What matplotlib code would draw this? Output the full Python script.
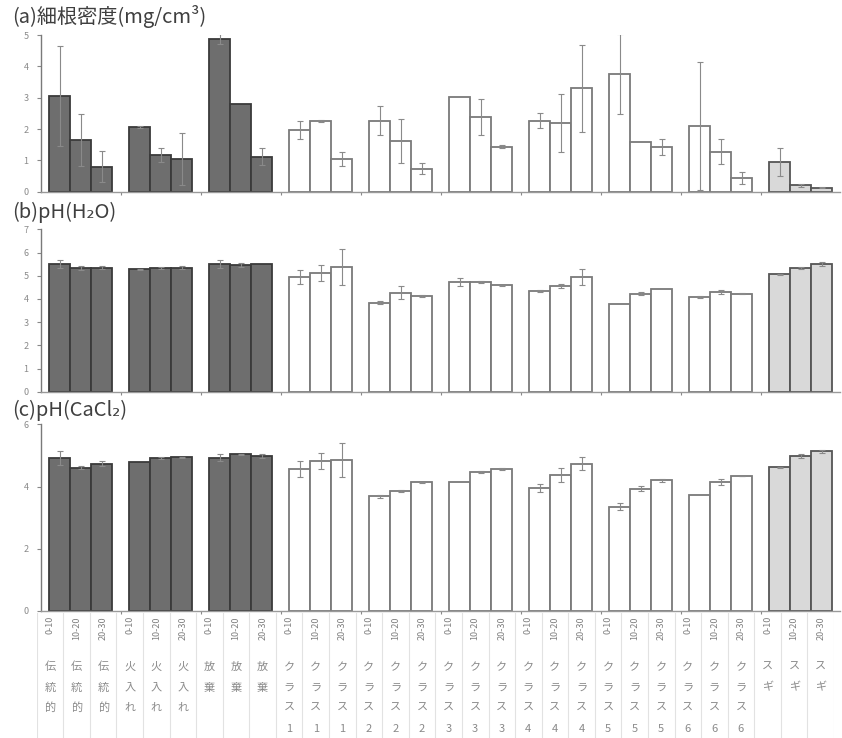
import matplotlib
matplotlib.use("Agg")
import matplotlib.pyplot as plt
import numpy as np

plt.rcParams['font.family'] = ['Noto Sans CJK JP', 'DejaVu Sans']

# ---- data -------------------------------------------------------------
groups = ["伝統的", "火入れ", "放棄", "クラス1", "クラス2", "クラス3",
          "クラス4", "クラス5", "クラス6", "スギ"]
depths = ["0-10", "10-20", "20-30"]

root_density = [3.06, 1.65, 0.80,  2.06, 1.16, 1.04,  4.87, 2.81, 1.12,
                1.97, 2.26, 1.05,  2.27, 1.63, 0.73,  3.02, 2.38, 1.44,
                2.27, 2.20, 3.30,  3.76, 1.59, 1.43,  2.10, 1.28, 0.43,
                0.94, 0.21, 0.13]
root_density_err = [1.60, 0.83, 0.49,  0.03, 0.22, 0.83,  0.16, 0.0, 0.27,
                    0.30, 0.03, 0.22,  0.47, 0.70, 0.18,  0.0, 0.57, 0.05,
                    0.25, 0.93, 1.39,  1.28, 0.0, 0.25,  2.05, 0.40, 0.19,
                    0.45, 0.05, 0.02]

ph_h2o = [5.52, 5.33, 5.35,  5.27, 5.34, 5.35,  5.52, 5.46, 5.50,
          4.96, 5.12, 5.37,  3.84, 4.26, 4.13,  4.73, 4.72, 4.59,
          4.33, 4.56, 4.95,  3.80, 4.23, 4.43,  4.07, 4.30, 4.22,
          5.06, 5.33, 5.50]
ph_h2o_err = [0.17, 0.10, 0.07,  0.03, 0.05, 0.07,  0.17, 0.10, 0.0,
              0.30, 0.36, 0.76,  0.05, 0.28, 0.05,  0.18, 0.04, 0.02,
              0.04, 0.07, 0.33,  0.0, 0.08, 0.0,  0.05, 0.09, 0.02,
              0.03, 0.05, 0.08]

ph_cacl2 = [4.91, 4.60, 4.73,  4.80, 4.91, 4.94,  4.93, 5.04, 4.98,
            4.57, 4.82, 4.86,  3.68, 3.86, 4.13,  4.14, 4.46, 4.56,
            3.94, 4.37, 4.74,  3.35, 3.93, 4.20,  3.73, 4.14, 4.34,
            4.62, 4.98, 5.13]
ph_cacl2_err = [0.23, 0.05, 0.08,  0.0, 0.04, 0.02,  0.10, 0.02, 0.06,
                0.25, 0.27, 0.55,  0.05, 0.02, 0.02,  0.0, 0.03, 0.04,
                0.13, 0.23, 0.22,  0.11, 0.08, 0.04,  0.0, 0.09, 0.01,
                0.02, 0.07, 0.04]

# ---- styling ----------------------------------------------------------
fills = ["#6e6e6e"] * 3 + ["#ffffff"] * 6 + ["#d9d9d9"]
edges = ["#3a3a3a"] * 3 + ["#7a7a7a"] * 6 + ["#555555"]

W, H = 842, 738
fig = plt.figure(figsize=(W / 100, H / 100), dpi=100)
fig.patch.set_facecolor("white")

n_g, n_d = len(groups), len(depths)
period = 80 / 21.0           # group spacing in bar widths
x_left = np.array([g * period + d for g in range(n_g) for d in range(n_d)])
bar_fill = [fills[g] for g in range(n_g) for d in range(n_d)]
bar_edge = [edges[g] for g in range(n_g) for d in range(n_d)]
xmin, xmax = -8 / 21.0, (840 - 49) / 21.0


def px_axes(x0, x1, ytop, ybot):
    return fig.add_axes([x0 / W, 1 - ybot / H, (x1 - x0) / W, (ybot - ytop) / H])


def panel(ytop, ybot, vals, errs, ymax, ystep, title, title_y):
    ax = px_axes(41, 840, ytop, ybot)
    ax.bar(x_left, vals, width=1.0, align="edge", color=bar_fill,
           edgecolor=bar_edge, linewidth=1.3, zorder=2)
    e = np.array(errs)
    mask = e > 0
    ax.errorbar((x_left + 0.5)[mask], np.array(vals)[mask], yerr=e[mask],
                fmt="none", ecolor="#8a8a8a", elinewidth=0.8, capsize=2,
                capthick=0.8, zorder=3)
    ax.set_xlim(xmin, xmax)
    ax.set_ylim(0, ymax)
    ax.set_yticks(np.arange(0, ymax + 0.01, ystep))
    ax.set_yticklabels([f"{int(v)}" for v in np.arange(0, ymax + 0.01, ystep)])
    gaps = [g * period + 3 + (period - 3) / 2 for g in range(n_g - 1)]
    ax.set_xticks(gaps)
    ax.set_xticklabels([])
    ax.tick_params(axis="x", length=2.5, color="#888888", direction="out")
    ax.tick_params(axis="y", length=3, color="#888888", labelsize=6.5,
                   labelcolor="#8a8a8a", pad=6)
    for s in ("top", "right"):
        ax.spines[s].set_visible(False)
    ax.spines["left"].set_color("#7a7a7a")
    ax.spines["bottom"].set_color("#9a9a9a")
    ax.spines["left"].set_linewidth(1.0)
    ax.spines["bottom"].set_linewidth(1.0)
    fig.text(12 / W, 1 - title_y / H, title, fontsize=14.5, color="#3f3f3f",
             va="center", ha="left")
    return ax


panel(35, 191.7, root_density, root_density_err, 5, 1,
      "(a)細根密度(mg/cm³)", 17)
panel(229.3, 391.7, ph_h2o, ph_h2o_err, 7, 1, "(b)pH(H₂O)", 212)
panel(424.3, 611, ph_cacl2, ph_cacl2_err, 6, 2, "(c)pH(CaCl₂)", 410)

# ---- category label table under the bottom panel ----------------------
lab = px_axes(36.7, 834.0, 611, 738)
lab.set_xlim(0, n_g * n_d)
lab.set_ylim(738, 611)
lab.axis("off")
for i in range(n_g * n_d + 1):
    lab.plot([i, i], [613, 738], color="#e2e2e2", lw=0.8)
for g, name in enumerate(groups):
    for d, dep in enumerate(depths):
        i = g * n_d + d
        lab.text(i + 0.5, 616, dep, rotation=90, ha="center", va="top",
                 fontsize=6.5, color="#808080")
        for k, ch in enumerate(name):
            lab.text(i + 0.5, 667 + k * 20.5, ch, ha="center", va="center",
                     fontsize=8, color="#8a8a8a")

fig.savefig("out.png", dpi=100, facecolor="white")
